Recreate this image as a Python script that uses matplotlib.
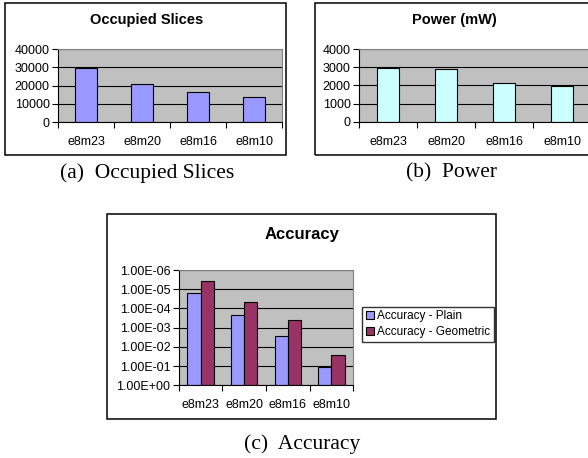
import numpy as np
import matplotlib
matplotlib.use("Agg")
import matplotlib.pyplot as plt
from matplotlib.patches import Rectangle
from matplotlib.ticker import FixedLocator, FuncFormatter

# =========================================================
# Data
# =========================================================

formats = ["e8m23", "e8m20", "e8m16", "e8m10"]

slices = [29500, 20700, 16600, 13700]
power = [2950, 2900, 2150, 1990]

acc_plain = [1.6e-5, 2.3e-4, 2.8e-3, 1.1e-1]
acc_geometric = [3.6e-6, 4.5e-5, 3.8e-4, 2.7e-2]

# =========================================================
# Style
# =========================================================

plt.rcParams["font.family"] = ["Liberation Sans", "DejaVu Sans"]

W, H = 588, 458
PLOT_BG = "#C0C0C0"
BLUE = "#9999FF"
CYAN = "#CCFFFF"
PLUM = "#993366"


def px_axes(fig, left, top, right, bottom):
    return fig.add_axes([left / W, 1 - bottom / H, (right - left) / W, (bottom - top) / H])


def frame(fig, left, top, right, bottom):
    fig.add_artist(Rectangle((left / W, 1 - bottom / H), (right - left) / W, (bottom - top) / H,
                             transform=fig.transFigure, fill=False, edgecolor="black", lw=1.1))


def excel_style(ax, n):
    ax.set_facecolor(PLOT_BG)
    ax.set_axisbelow(True)
    ax.grid(axis="y", color="black", lw=0.8)
    for s in ("top", "right"):
        ax.spines[s].set_color("#808080")
        ax.spines[s].set_linewidth(0.8)
    for s in ("left", "bottom"):
        ax.spines[s].set_linewidth(0.8)
    ax.set_xlim(-0.5, n - 0.5)
    # category boundary ticks, labels centred
    ax.xaxis.set_major_locator(FixedLocator(np.arange(n + 1) - 0.5))
    ax.xaxis.set_minor_locator(FixedLocator(np.arange(n)))
    ax.set_xticklabels([])
    ax.set_xticklabels(formats, minor=True)
    ax.tick_params(axis="x", which="major", length=4, width=0.8, direction="out")
    ax.tick_params(axis="x", which="minor", length=0, pad=10, labelsize=9)
    ax.tick_params(axis="y", length=4, width=0.8, direction="out", labelsize=9, pad=2)


fig = plt.figure(figsize=(W / 100, H / 100), dpi=100)

# =========================================================
# (a) Occupied Slices
# =========================================================

frame(fig, 5, 3, 286, 155)
ax1 = px_axes(fig, 58, 49, 282, 122)
x = np.arange(len(formats))
ax1.bar(x, slices, width=0.41, color=BLUE, edgecolor="black", lw=0.8)
ax1.set_ylim(0, 40000)
ax1.set_yticks([0, 10000, 20000, 30000, 40000])
excel_style(ax1, len(formats))
fig.text(146.5 / W, 1 - 20 / H, "Occupied Slices", ha="center", va="center",
         fontsize=10.5, fontweight="bold")

# =========================================================
# (b) Power
# =========================================================

frame(fig, 315, 3, 620, 155)
ax2 = px_axes(fig, 359, 49, 591, 121.7)
ax2.bar(x, power, width=0.38, color=CYAN, edgecolor="black", lw=0.8)
ax2.set_ylim(0, 4000)
ax2.set_yticks([0, 1000, 2000, 3000, 4000])
excel_style(ax2, len(formats))
fig.text(454.5 / W, 1 - 20 / H, "Power (mW)", ha="center", va="center",
         fontsize=10.5, fontweight="bold")

# =========================================================
# (c) Accuracy (inverted log axis, bars grow from 1e0)
# =========================================================

frame(fig, 107, 214, 496, 419)
ax3 = px_axes(fig, 178.7, 270, 353.3, 385.3)
bw = 0.3
ax3.bar(x - bw / 2, np.array(acc_plain) - 1, bottom=1, width=bw, color=BLUE,
        edgecolor="black", lw=0.8, label="Accuracy - Plain")
ax3.bar(x + bw / 2, np.array(acc_geometric) - 1, bottom=1, width=bw, color=PLUM,
        edgecolor="black", lw=0.8, label="Accuracy - Geometric")
ax3.set_yscale("log")
ax3.set_ylim(1, 1e-6)
ax3.yaxis.set_major_locator(FixedLocator([10.0 ** -k for k in range(7)]))
ax3.yaxis.set_minor_locator(FixedLocator([]))
ax3.yaxis.set_major_formatter(FuncFormatter(lambda v, p: f"{v:.2E}"))
excel_style(ax3, len(formats))
fig.text(302 / W, 1 - 235 / H, "Accuracy", ha="center", va="center",
         fontsize=12, fontweight="bold")

fig.legend(loc="upper left", bbox_to_anchor=(362 / W, 1 - 306.7 / H),
           fontsize=8.5, frameon=True, fancybox=False, edgecolor="black",
           handlelength=0.7, handleheight=0.7, handletextpad=0.3,
           borderpad=0.3, labelspacing=0.35, borderaxespad=0)

# =========================================================
# Captions
# =========================================================

cap = dict(ha="center", va="center", fontsize=15.5, family=["Liberation Serif", "DejaVu Serif"])
fig.text(147 / W, 1 - 173 / H, "(a)  Occupied Slices", **cap)
fig.text(452 / W, 1 - 173 / H, "(b)  Power", **cap)
fig.text(302 / W, 1 - 444 / H, "(c)  Accuracy", **cap)

fig.savefig("out.png", dpi=100)
